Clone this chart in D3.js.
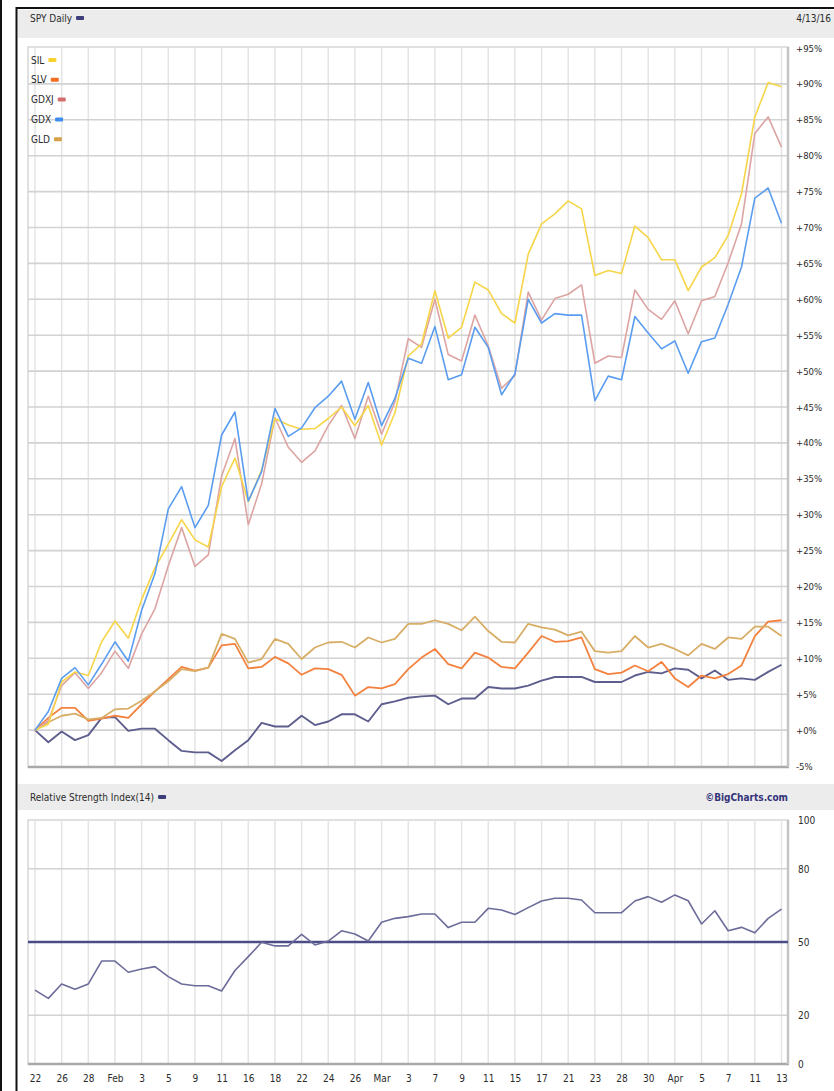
<!DOCTYPE html>
<html>
<head>
<meta charset="utf-8">
<script src="https://cdn.jsdelivr.net/npm/d3@7/dist/d3.min.js"></script>
<style>
  html, body { margin: 0; padding: 0; background: #fff; }
  svg { display: block; }
  text { font-family: "Liberation Sans Narrow", "DejaVu Sans Condensed", "Roboto Condensed", sans-serif; font-stretch: condensed; fill: #2b2b2b; }
</style>
</head>
<body>
<script>
// Trading-day ticks, every second session from Jan 22 to Apr 13, 2016
const tickLabels = ["22","26","28","Feb","3","5","9","11","16","18","22","24","26","Mar",
  "3","7","9","11","15","17","21","23","28","30","Apr","5","7","11","13"];

// Percent change since Jan 22 (57 sessions)
const spy = [0,-1.7,-0.2,-1.4,-0.7,1.7,1.8,-0.1,0.2,0.2,-1.4,-2.9,-3.1,-3.1,-4.3,-2.8,-1.4,1.0,0.5,0.5,
  2.0,0.7,1.2,2.2,2.2,1.2,3.6,4.0,4.5,4.7,4.8,3.6,4.4,4.4,6.0,5.8,5.8,6.2,6.9,7.4,
  7.4,7.4,6.7,6.7,6.7,7.6,8.1,7.9,8.6,8.4,7.2,8.3,7.0,7.2,7.0,8.1,9.1];
const slv = [0,1.7,3.1,3.1,1.3,1.6,2.0,1.7,3.6,5.4,7.1,8.8,8.3,8.7,11.8,12.0,8.6,8.8,10.2,9.3,
  7.7,8.6,8.5,7.7,4.8,6.0,5.8,6.4,8.5,10.1,11.3,9.2,8.6,10.8,10.1,8.8,8.6,10.8,13.1,12.3,
  12.4,12.9,8.5,7.8,8.0,9.0,8.2,9.5,7.2,6.0,7.6,7.2,7.8,9.0,13.1,15.1,15.3];
const gld = [0,1.1,2.0,2.3,1.5,1.7,2.9,3.0,4.1,5.4,6.8,8.5,8.2,8.7,13.4,12.7,9.4,9.9,12.7,12.0,
  9.9,11.5,12.2,12.3,11.5,12.9,12.2,12.7,14.8,14.8,15.3,14.8,13.9,15.8,13.8,12.3,12.2,14.8,14.3,14.0,
  13.2,13.7,11.0,10.8,11.0,13.1,11.5,12.0,11.3,10.4,12.0,11.3,12.9,12.7,14.4,14.4,13.1];
const sil = [0,0.8,6.7,8.1,7.6,12.3,15.2,12.8,18.2,22.6,25.9,29.3,26.5,25.5,33.9,37.9,31.8,36.2,43.4,42.5,
  41.9,42.0,43.4,45.0,42.4,45.2,39.7,44.2,52.1,53.8,61.2,54.6,56.1,62.4,61.3,58.0,56.7,66.3,70.5,71.9,
  73.7,72.6,63.3,64.0,63.6,70.2,68.6,65.5,65.5,61.2,64.5,65.8,68.9,74.7,85.4,90.2,89.6];
const gdxj = [0,1.3,6.2,8.0,5.8,8.0,11.0,8.6,13.4,16.9,22.9,28.2,22.8,24.4,35.4,40.6,28.6,34.3,43.5,39.4,
  37.3,38.9,42.4,45.2,40.6,46.5,41.2,45.7,54.5,53.3,60.0,52.3,51.4,57.8,53.5,47.6,49.4,61.0,57.1,60.1,
  60.7,62.0,51.1,52.1,51.9,61.3,58.6,57.2,59.8,55.2,59.8,60.4,65.1,70.5,83.1,85.4,81.2];
const gdx = [0,2.6,7.2,8.7,6.3,9.2,12.3,9.6,16.7,21.8,30.8,33.9,28.2,31.3,41.1,44.3,31.9,36.0,44.8,40.9,
  42.1,44.9,46.5,48.6,43.3,48.4,42.4,46.2,51.8,51.1,56.2,48.8,49.5,56.1,53.3,46.7,49.6,60.0,56.7,58.0,
  57.8,57.8,45.9,49.3,48.8,57.6,55.3,53.1,54.2,49.7,54.1,54.6,59.3,64.5,74.1,75.5,70.6];

// SPY 14-day relative strength index
const rsi = [30.3,26.9,32.8,30.6,32.8,42.2,42.2,37.6,38.9,39.9,35.8,32.8,32.1,32.1,29.9,38.3,44.0,49.9,48.4,48.4,
  53.1,48.8,50.4,54.6,53.3,50.4,58.1,59.7,60.4,61.5,61.5,55.9,58.1,58.1,63.8,63.1,61.3,64.1,66.8,67.9,
  67.9,67.2,62.0,62.0,62.0,66.8,68.6,66.3,69.3,66.9,57.4,62.8,54.6,56.0,53.8,59.7,63.5];

const pctTicks = d3.range(-5, 96, 5);
const rsiTicks = [0, 20, 50, 80, 100];
const legendNames = ["SIL", "SLV", "GDXJ", "GDX", "GLD"];

const W = 834, H = 1091;
const svg = d3.select("body").append("svg").attr("width", W).attr("height", H);

const frame = { left: 28, right: 788 };
const pricePanel = { y0: 47, y1: 767 };
const rsiPanel = { y0: 820, y1: 1064 };

const x = d3.scaleLinear().domain([0, spy.length - 1]).range([35, 781.5]);
const y = d3.scaleLinear().domain([-5, 95]).range([766, 48]);
const yr = d3.scaleLinear().domain([0, 100]).range([rsiPanel.y1, rsiPanel.y0]);
const tickIdx = d3.range(0, spy.length, 2);

// Outer frame lines
svg.append("line").attr("x1", 1).attr("x2", 1).attr("y1", 0).attr("y2", H).attr("stroke", "#111").attr("stroke-width", 2);
svg.append("line").attr("x1", 16.5).attr("x2", 16.5).attr("y1", 7).attr("y2", H).attr("stroke", "#111").attr("stroke-width", 2);
svg.append("line").attr("x1", 16).attr("x2", W).attr("y1", 8).attr("y2", 8).attr("stroke", "#111").attr("stroke-width", 2);

// Header bands
svg.append("rect").attr("x", 18).attr("y", 10).attr("width", W - 18).attr("height", 28).attr("fill", "#ececec");
svg.append("rect").attr("x", 18).attr("y", 784).attr("width", W - 18).attr("height", 26).attr("fill", "#ececec");

// Title text followed by a small key swatch
function titleWithKey(tx, ty, label, color) {
  const t = svg.append("text").attr("x", tx).attr("y", ty).attr("font-size", 10).text(label);
  const wText = t.node().getComputedTextLength();
  svg.append("rect").attr("x", tx + wText + 4).attr("y", ty - 6).attr("width", 8).attr("height", 4)
    .attr("rx", 1).attr("fill", color);
}
titleWithKey(30, 22, "SPY Daily", "#3d3d7a");
titleWithKey(30, 801, "Relative Strength Index(14)", "#3d3d7a");

svg.append("text").attr("x", 831).attr("y", 22).attr("font-size", 10).attr("text-anchor", "end").text("4/13/16");
svg.append("text").attr("x", 788).attr("y", 801).attr("font-size", 10).attr("text-anchor", "end")
  .attr("font-weight", "bold").style("fill", "#33337a").text("\u00A9BigCharts.com");

function panel(y0, y1, hTicks, hScale, hColor) {
  const g = svg.append("g");
  g.append("rect").attr("x", frame.left).attr("y", y0).attr("width", frame.right - frame.left)
    .attr("height", y1 - y0).attr("fill", "#fff").attr("stroke", "#d6d6d6").attr("stroke-width", 1.5);
  g.selectAll("line.v").data(tickIdx).join("line").attr("class", "v")
    .attr("x1", d => x(d)).attr("x2", d => x(d)).attr("y1", y0).attr("y2", y1)
    .attr("stroke", "#e4e4e4").attr("stroke-width", 1.5);
  g.selectAll("line.h").data(hTicks).join("line").attr("class", "h")
    .attr("x1", frame.left).attr("x2", frame.right).attr("y1", d => hScale(d)).attr("y2", d => hScale(d))
    .attr("stroke", hColor).attr("stroke-width", 1.6);
  // shaded bottom and right edges
  g.append("line").attr("x1", frame.left).attr("x2", frame.right + 1).attr("y1", y1).attr("y2", y1)
    .attr("stroke", "#a9a9a9").attr("stroke-width", 2.5);
  g.append("line").attr("x1", frame.right).attr("x2", frame.right).attr("y1", y0).attr("y2", y1)
    .attr("stroke", "#c4c4c4").attr("stroke-width", 2.5);
  return g;
}

panel(pricePanel.y0, pricePanel.y1, pctTicks.filter(d => d > -5 && d < 95), y, "#d2d2d2");
panel(rsiPanel.y0, rsiPanel.y1, [20, 80], yr, "#d2d2d2");

// Price panel axis
svg.append("g").attr("transform", `translate(796,0)`)
  .call(d3.axisRight(y).tickValues(pctTicks).tickSize(0).tickPadding(0)
    .tickFormat(d => (d >= 0 ? "+" : "-") + Math.abs(d) + "%"))
  .call(g => g.select(".domain").remove())
  .call(g => g.selectAll("text").attr("font-size", 9.5).attr("font-family", null));

// RSI axis
svg.append("g").attr("transform", `translate(798,0)`)
  .call(d3.axisRight(yr).tickValues(rsiTicks).tickSize(0).tickPadding(0))
  .call(g => g.select(".domain").remove())
  .call(g => g.selectAll("text").attr("font-size", 10).attr("font-family", null));

// Date axis
svg.append("g").attr("transform", `translate(0,${rsiPanel.y1})`)
  .call(d3.axisBottom(x).tickValues(tickIdx).tickSize(0).tickPadding(11)
    .tickFormat((d, i) => tickLabels[i]))
  .call(g => g.select(".domain").remove())
  .call(g => g.selectAll("text").attr("font-size", 10).attr("font-family", null));

// Series lines
const line = d3.line().x((d, i) => x(i)).y(d => y(d));
const series = [
  { name: "SPY", data: spy, color: "#5e5e8e", w: 1.9 },
  { name: "SLV", data: slv, color: "#f4823f", w: 1.8 },
  { name: "GLD", data: gld, color: "#d8ae67", w: 1.8 },
  { name: "GDXJ", data: gdxj, color: "#dca4a2", w: 1.6 },
  { name: "SIL", data: sil, color: "#f7d548", w: 1.6 },
  { name: "GDX", data: gdx, color: "#5a9df0", w: 1.6 }
];
svg.append("g").selectAll("path").data(series).join("path")
  .attr("d", d => line(d.data)).attr("fill", "none")
  .attr("stroke", d => d.color).attr("stroke-width", d => d.w)
  .attr("stroke-linejoin", "round");

// Legend
const legendColor = { SIL: "#f7d22e", SLV: "#f36d22", GDXJ: "#d46d6d", GDX: "#3f8cf0", GLD: "#d3a24a" };
const lg = svg.append("g").selectAll("g").data(legendNames).join("g")
  .attr("transform", (d, i) => `translate(31,${60 + i * 19.8})`);
lg.append("text").attr("y", 3.5).attr("font-size", 10).text(d => d);
lg.each(function () {
  const g = d3.select(this);
  const wText = g.select("text").node().getComputedTextLength();
  g.append("rect").attr("x", wText + 4).attr("y", -2).attr("width", 8).attr("height", 4)
    .attr("rx", 1).attr("fill", d => legendColor[d]);
});

// RSI panel: 50 line and RSI
svg.append("line").attr("x1", frame.left).attr("x2", frame.right).attr("y1", yr(50)).attr("y2", yr(50))
  .attr("stroke", "#4b4b86").attr("stroke-width", 2.5);
svg.append("path").attr("d", d3.line().x((d, i) => x(i)).y(d => yr(d))(rsi))
  .attr("fill", "none").attr("stroke", "#6c6c9a").attr("stroke-width", 1.6).attr("stroke-linejoin", "round");
</script>
</body>
</html>
